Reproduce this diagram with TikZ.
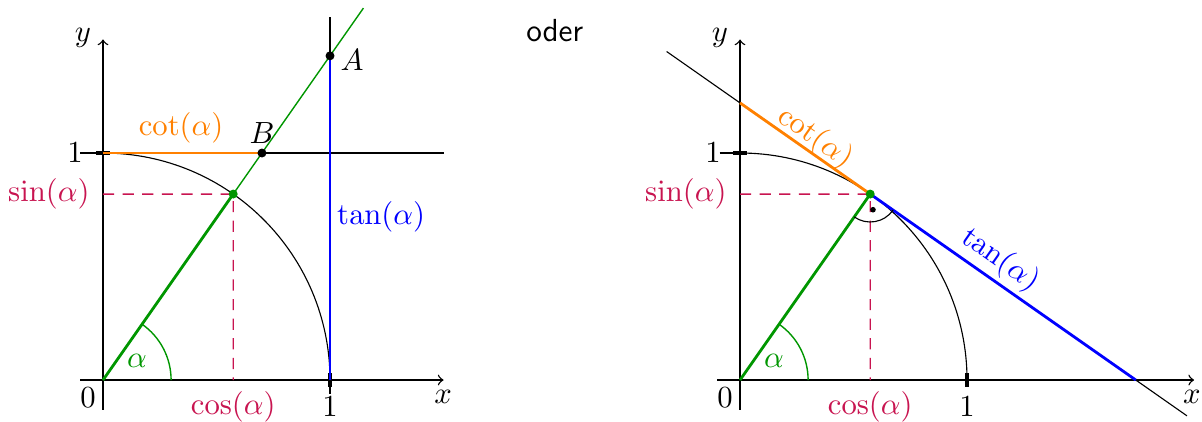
\documentclass[tikz,border=0pt]{standalone}
\usetikzlibrary{calc}
\definecolor{trig}{RGB}{200,20,80}
\definecolor{grn}{RGB}{0,150,0}
\tikzset{
  thinline/.style={line width=0.4pt,black},
  axisline/.style={line width=0.5pt,black,-to},
  tickmark/.style={line width=1.1pt,black},
  thickline/.style={line width=1pt},
  dashline/.style={trig,dashed,line width=0.5pt,dash pattern=on 4pt off 3pt},
  dotpt/.style={circle,fill,inner sep=0pt,minimum size=3.2pt},
  lbl/.style={inner sep=1pt,font=\fontsize{11.4}{13}\selectfont}
}
\begin{document}
\begin{tikzpicture}[x=2.85cm,y=2.85cm]
\useasboundingbox (-0.4537,-0.1806) rectangle (4.841,1.674);
% ---------- left diagram ----------
\begin{scope}
\coordinate (O) at (0,0);
\coordinate (P) at (55:1);
\coordinate (A) at (1,1.4281);
\coordinate (B) at (0.7002,1);
\coordinate (E) at (1,0);
\coordinate (Yone) at (0,1);
\coordinate (Ps) at (0,0.8192);
\coordinate (Pc) at (0.5736,0);
\draw[thinline] (E) arc (0:90:1);
\draw[thinline] (-0.1,1) -- (1.5,1);
\draw[thinline] (1,-0.06) -- (1,1.6);
\draw[axisline] (-0.1,0) -- (1.5,0);
\draw[axisline] (0,-0.13) -- (0,1.5);
\draw[tickmark] (-0.03,1) -- (0.03,1);
\draw[tickmark] (1,-0.03) -- (1,0.03);
\draw[grn,line width=0.5pt] (O) -- (55:2);
\draw[grn,thickline] (O) -- (P);
\draw[orange,thickline] (Yone) -- (B);
\draw[blue,thickline] (E) -- (A);
\draw[dashline] (Ps) -- (P) -- (Pc);
\draw[grn,line width=0.5pt] (0.3,0) arc (0:55:0.3);
\node[dotpt,black] (Adot) at (A) {};
\node[dotpt,black] (Bdot) at (B) {};
\node[dotpt,grn] (Pdot) at (P) {};
\node[lbl] (ylab) at (-0.088,1.507) {$y$};
\node[lbl] (xlab) at (1.498,-0.075) {$x$};
\node[lbl] (zero) at (-0.066,-0.079) {$0$};
\node[lbl] (yone) at (-0.123,1) {$1$};
\node[lbl] (xone) at (1,-0.118) {$1$};
\node[lbl,trig,anchor=east] (sinl) at (-0.045,0.8192) {$\sin(\alpha)$};
\node[lbl,trig] (cosl) at (0.5736,-0.12) {$\cos(\alpha)$};
\node[lbl,orange] (cotl) at (0.344,1.11) {$\cot(\alpha)$};
\node[lbl] (Bl) at (0.70,1.09) {$B$};
\node[lbl] (Al) at (1.097,1.41) {$A$};
\node[lbl,blue] (tanl) at (1.225,0.718) {$\tan(\alpha)$};
\node[lbl,grn] (alphal) at (0.15,0.084) {$\alpha$};
\end{scope}
\node[lbl,font=\fontsize{11.4}{13}\selectfont\sffamily] (oder) at (1.99,1.54) {oder};
% ---------- right diagram ----------
\begin{scope}[shift={(2.806,0)}]
\coordinate (O2) at (0,0);
\coordinate (P2) at (55:1);
\coordinate (E2) at (1,0);
\coordinate (Y2) at (0,1.2208);
\coordinate (X2) at (1.7434,0);
\coordinate (Ps2) at (0,0.8192);
\coordinate (Pc2) at (0.5736,0);
\coordinate (T1) at ($(P2)+(145:1.095)$);
\coordinate (T2) at ($(P2)+(-35:1.703)$);
\draw[thinline] (E2) arc (0:90:1);
\draw[thinline] (-0.09,1) -- (0,1);
\draw[axisline] (-0.1,0) -- (2.0,0);
\draw[axisline] (0,-0.13) -- (0,1.5);
\draw[tickmark] (-0.03,1) -- (0.03,1);
\draw[tickmark] (1,-0.03) -- (1,0.03);
\draw[thinline] (T1) -- (T2);
\draw[orange,thickline] (Y2) -- (P2);
\draw[blue,thickline] (P2) -- (X2);
\draw[grn,thickline] (O2) -- (P2);
\draw[dashline] (Ps2) -- (P2) -- (Pc2);
\draw[grn,line width=0.5pt] (0.3,0) arc (0:55:0.3);
\draw[thinline] ($(P2)+(235:0.123)$) arc (235:325:0.123);
\node[circle,fill,inner sep=0pt,minimum size=2pt] (rdot) at ($(P2)+(280:0.07)$) {};
\node[dotpt,grn] (P2dot) at (P2) {};
\node[lbl] (ylab2) at (-0.088,1.507) {$y$};
\node[lbl] (xlab2) at (1.99,-0.075) {$x$};
\node[lbl] (zero2) at (-0.066,-0.079) {$0$};
\node[lbl] (yone2) at (-0.119,1) {$1$};
\node[lbl] (xone2) at (1,-0.118) {$1$};
\node[lbl,trig,anchor=east] (sinl2) at (-0.045,0.8192) {$\sin(\alpha)$};
\node[lbl,trig] (cosl2) at (0.5736,-0.12) {$\cos(\alpha)$};
\node[lbl,orange,rotate=-35] (cotl2) at (0.33,1.066) {$\cot(\alpha)$};
\node[lbl,blue,rotate=-35] (tanl2) at (1.145,0.529) {$\tan(\alpha)$};
\node[lbl,grn] (alphal2) at (0.15,0.084) {$\alpha$};
\end{scope}
\end{tikzpicture}
\end{document}
